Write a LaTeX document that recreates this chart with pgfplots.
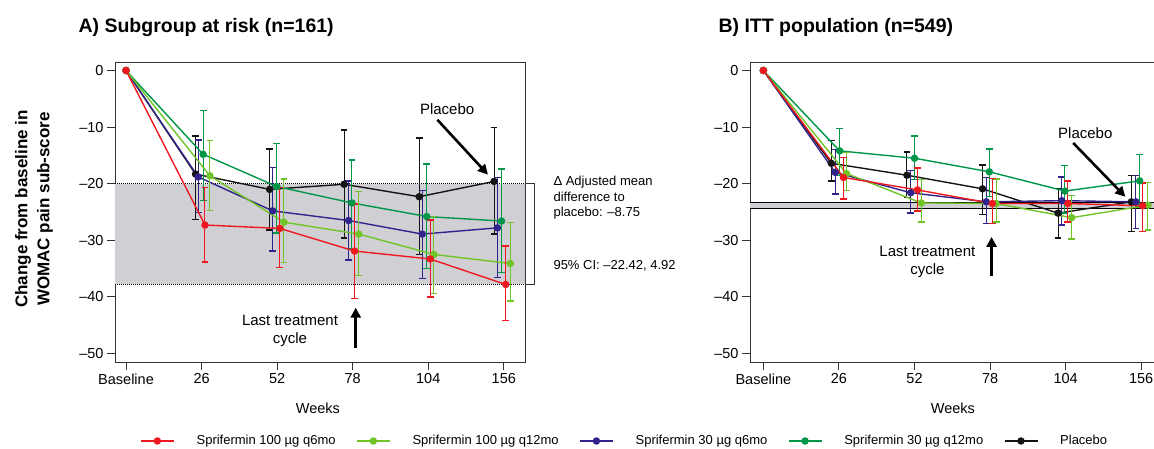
\documentclass[border=0pt]{standalone}
\usepackage{fontspec}
\setmainfont{Liberation Sans}
\usepackage{pgfplots}
\pgfplotsset{compat=1.18}
\usepackage{pgfplotstable}
\usetikzlibrary{arrows.meta}

\definecolor{cRed}{RGB}{240,24,32}
\definecolor{cLGreen}{RGB}{112,196,40}
\definecolor{cPurple}{RGB}{48,36,140}
\definecolor{cGreen}{RGB}{0,150,72}
\definecolor{cBlack}{RGB}{20,20,20}
\definecolor{bandgray}{RGB}{208,208,212}

% columns: x (dodged category index), mean, lower, upper
\pgfplotstableread{
x y lo hi
0 0 0 0
1.045 -27.3 -33.8 -20.7
2.035 -27.9 -34.8 -20.7
3.025 -31.9 -40.3 -23.6
4.025 -33.3 -40.0 -26.4
5.025 -37.8 -44.2 -31.0
}\tabAred
\pgfplotstableread{
x y lo hi
0 0 0 0
1.11 -18.6 -24.7 -12.4
2.09 -26.8 -33.9 -19.2
3.08 -28.9 -36.2 -21.4
4.075 -32.5 -39.4 -25.8
5.085 -34.1 -40.7 -26.9
}\tabAlgreen
\pgfplotstableread{
x y lo hi
0 0 0 0
0.955 -18.8 -25.1 -12.3
1.94 -24.8 -31.9 -17.1
2.945 -26.5 -33.5 -19.5
3.92 -28.9 -36.7 -21.2
4.915 -27.8 -36.6 -18.9
}\tabApurple
\pgfplotstableread{
x y lo hi
0 0 0 0
1.02 -14.8 -23.0 -7.1
1.995 -20.5 -28.7 -12.9
2.99 -23.4 -31.4 -15.8
3.98 -25.8 -35.0 -16.5
4.97 -26.6 -35.7 -17.4
}\tabAgreen
\pgfplotstableread{
x y lo hi
0 0 0 0
0.92 -18.3 -26.3 -11.6
1.9 -21.0 -28.2 -13.9
2.885 -20.1 -29.6 -10.5
3.88 -22.3 -32.5 -11.9
4.87 -19.6 -28.9 -10.1
}\tabAblack

\pgfplotstableread{
x y lo hi
0 0 0 0
1.06 -18.9 -22.7 -15.4
2.04 -21.1 -24.8 -17.2
3.03 -23.5 -27.0 -19.1
4.03 -23.5 -26.8 -19.5
5.02 -23.9 -28.4 -19.9
}\tabBred
\pgfplotstableread{
x y lo hi
0 0 0 0
1.1 -18.2 -21.2 -14.5
2.09 -23.4 -26.8 -19.3
3.08 -23.5 -26.8 -19.2
4.08 -26.0 -29.8 -22.1
5.09 -23.8 -28.2 -19.8
}\tabBlgreen
\pgfplotstableread{
x y lo hi
0 0 0 0
0.95 -18.0 -21.8 -14.0
1.95 -21.6 -25.2 -17.7
2.95 -23.2 -27.0 -18.9
3.95 -23.0 -27.3 -18.8
4.93 -23.2 -27.9 -18.6
}\tabBpurple
\pgfplotstableread{
x y lo hi
0 0 0 0
1.01 -14.2 -18.6 -10.3
2.0 -15.5 -19.3 -11.6
2.99 -17.9 -22.3 -13.9
3.99 -21.3 -25.2 -16.8
4.98 -19.5 -24.1 -14.8
}\tabBgreen
\pgfplotstableread{
x y lo hi
0 0 0 0
0.9 -16.4 -19.5 -12.4
1.9 -18.5 -22.4 -14.4
2.9 -20.9 -25.4 -16.7
3.9 -25.2 -29.6 -20.8
4.87 -23.2 -28.4 -18.6
}\tabBblack

\newcommand\tickfont{\fontsize{14.5}{17}\selectfont}
\newcommand\annfont{\fontsize{15}{18}\selectfont}

\pgfplotsset{
  myax/.style={
    scale only axis, width=410pt, height=300pt,
    ymin=-51.5, ymax=1.5,
    xtick={0,1,2,3,4,5}, xticklabels={Baseline,26,52,78,104,156},
    ytick={-50,-40,-30,-20,-10,0},
    yticklabels={–50,–40,–30,–20,–10,0},
    tick align=outside, tick pos=left, major tick length=8pt,
    every tick/.style={black!80, line width=1pt},
    axis line style={black!80, line width=1pt},
    tick label style={font=\tickfont},
    xlabel={Weeks},
    xlabel style={font=\tickfont, at={(axis description cs:0.495,-0.153)}, anchor=center},
    clip=false,
  },
  ser/.style={
    color=#1, line width=1.4pt, mark=*, mark size=3pt, mark options={solid, fill=#1},
    error bars/.cd, y dir=both, y explicit,
    error mark=-,
    error bar style={line width=1pt, color=#1},
    error mark options={rotate=90, mark size=3.4pt, line width=1.4pt, color=#1},
  },
}

\newcommand\plotser[2]{%
  \addplot[ser=#1] table[x=x, y=y,
    y error plus expr=\thisrow{hi}-\thisrow{y},
    y error minus expr=\thisrow{y}-\thisrow{lo}] {#2};%
}

\begin{document}
\begin{tikzpicture}[x=1pt,y=1pt]
\path[use as bounding box] (0,0) rectangle (1154,448);
\clip (0,0) rectangle (1154,448);

% ---------------- Panel A ----------------
\begin{axis}[myax, at={(115pt,86pt)}, anchor=south west,
  xmin=-0.146, xmax=5.28,
]
  \fill[bandgray] (axis cs:-0.146,-20) rectangle (axis cs:5.28,-37.8);
  \draw[densely dotted, line width=1pt] (axis cs:-0.146,-20) -- (axis cs:5.28,-20);
  \draw[densely dotted, line width=1pt] (axis cs:-0.146,-37.8) -- (axis cs:5.28,-37.8);
  \draw[black!80, line width=0.9pt] (axis cs:5.28,-20) -- (axis cs:5.40,-20) -- (axis cs:5.40,-37.8) -- (axis cs:5.28,-37.8);

  \plotser{cBlack}{\tabAblack}
  \plotser{cPurple}{\tabApurple}
  \plotser{cGreen}{\tabAgreen}
  \plotser{cLGreen}{\tabAlgreen}
  \plotser{cRed}{\tabAred}

  \node[font=\annfont] at (axis cs:4.25,-6.9) {Placebo};
  \draw[line width=2.6pt, -{Triangle[width=10pt,length=10pt]}] (axis cs:4.12,-8.7) -- (axis cs:4.79,-18.4);
  \node[font=\annfont, align=center] at (axis cs:2.17,-46.0) {Last treatment\\cycle};
  \draw[line width=2.6pt, -{Triangle[width=10pt,length=10pt]}] (axis cs:3.04,-49.0) -- (axis cs:3.04,-41.9);
\end{axis}

% ---------------- Panel B ----------------
\begin{axis}[myax, at={(750pt,86pt)}, anchor=south west,
  xmin=-0.177, xmax=5.249,
]
  \fill[bandgray] (axis cs:-0.177,-23.3) rectangle (axis cs:5.249,-24.3);
  \draw[line width=0.9pt] (axis cs:-0.177,-23.3) -- (axis cs:5.249,-23.3);
  \draw[line width=0.9pt] (axis cs:-0.177,-24.3) -- (axis cs:5.249,-24.3);

  \plotser{cBlack}{\tabBblack}
  \plotser{cPurple}{\tabBpurple}
  \plotser{cGreen}{\tabBgreen}
  \plotser{cLGreen}{\tabBlgreen}
  \plotser{cRed}{\tabBred}

  \node[font=\annfont] at (axis cs:4.26,-11.0) {Placebo};
  \draw[line width=2.6pt, -{Triangle[width=10pt,length=10pt]}] (axis cs:4.10,-12.8) -- (axis cs:4.79,-22.3);
  \node[font=\annfont, align=center] at (axis cs:2.17,-33.9) {Last treatment\\cycle};
  \draw[line width=2.6pt, -{Triangle[width=10pt,length=10pt]}] (axis cs:3.02,-36.3) -- (axis cs:3.02,-29.4);
\end{axis}

% legend (pgfplots legend in a hidden helper axis)
\begin{axis}[hide axis, scale only axis, width=10pt, height=10pt, at={(0pt,0pt)},
  xmin=0, xmax=1, ymin=0, ymax=1,
  legend columns=5,
  legend image code/.code={
    \draw[mark repeat=2,mark phase=2,#1] plot coordinates {(0pt,0pt) (16.5pt,0pt) (33pt,0pt)};
  },
  legend style={draw=none, fill=none, inner sep=0pt,
    at={(140pt,7pt)}, anchor=west,
    font=\fontsize{13}{15}\selectfont,
    /tikz/every odd column/.append style={column sep=20pt},
    /tikz/every even column/.append style={column sep=18.5pt}},
]
  \addlegendimage{cRed, line width=1.4pt, mark=*, mark size=3pt, mark options={solid, fill=cRed}}
  \addlegendentry{Sprifermin 100 µg q6mo}
  \addlegendimage{cLGreen, line width=1.4pt, mark=*, mark size=3pt, mark options={solid, fill=cLGreen}}
  \addlegendentry{Sprifermin 100 µg q12mo}
  \addlegendimage{cPurple, line width=1.4pt, mark=*, mark size=3pt, mark options={solid, fill=cPurple}}
  \addlegendentry{Sprifermin 30 µg q6mo}
  \addlegendimage{cGreen, line width=1.4pt, mark=*, mark size=3pt, mark options={solid, fill=cGreen}}
  \addlegendentry{Sprifermin 30 µg q12mo}
  \addlegendimage{cBlack, line width=1.4pt, mark=*, mark size=3pt, mark options={solid, fill=cBlack}}
  \addlegendentry{Placebo}
\end{axis}

% titles and labels
\node[anchor=base west, font=\bfseries\fontsize{19.5}{22}\selectfont] at (75,415) {A) Subgroup at risk (n=161)};
\node[anchor=base west, font=\bfseries\fontsize{19.5}{22}\selectfont] at (715,415) {B) ITT population (n=549)};
\node[rotate=90, align=center, font=\bfseries\fontsize{17}{22}\selectfont] at (34,239)
  {Change from baseline in\\WOMAC pain sub-score};
\node[anchor=base west, align=left, font=\fontsize{13}{15.5}\selectfont] at (550,231.5)
  {Δ Adjusted mean\\difference to\\placebo: –8.75};
\node[anchor=base west, font=\fontsize{13}{15.5}\selectfont] at (550,178.5) {95\% CI: –22.42, 4.92};
\end{tikzpicture}
\end{document}
